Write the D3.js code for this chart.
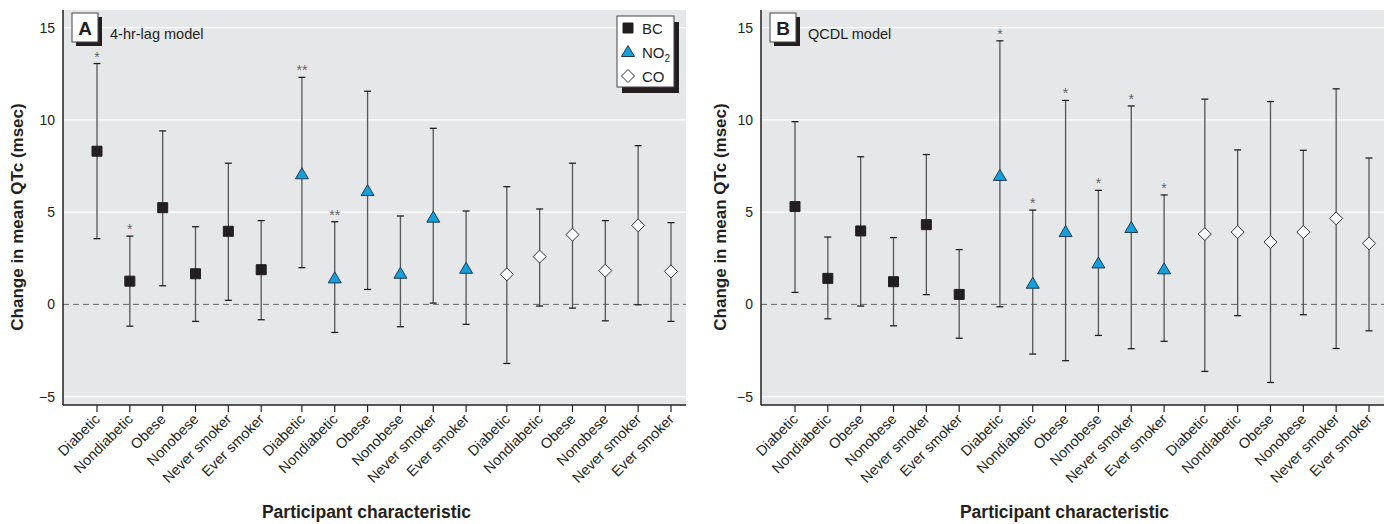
<!DOCTYPE html>
<html>
<head>
<meta charset="utf-8">
<script src="https://cdn.jsdelivr.net/npm/d3@7"></script>
<style>
  body { margin: 0; background: #fff; }
  text { font-family: "Liberation Sans", Arial, sans-serif; }
</style>
</head>
<body>
<div id="chart"></div>
<script>
// ---- data ----
let categories = ["Diabetic", "Nondiabetic", "Obese", "Nonobese", "Never smoker", "Ever smoker"];
let pollutants = ["BC", "NO2", "CO"];
let yTicks = [-5, 0, 5, 10, 15];

// panel A, 4-hr-lag model (BC x6, NO2 x6, CO x6)
let aEst  = [8.3, 1.26, 5.24, 1.66, 3.96, 1.88,   7.05, 1.41, 6.14, 1.66, 4.7, 1.93,   1.63, 2.59, 3.78, 1.83, 4.28, 1.79];
let aLow  = [3.56, -1.18, 1.01, -0.92, 0.22, -0.83,   1.99, -1.52, 0.81, -1.21, 0.07, -1.08,   -3.2, -0.09, -0.2, -0.89, -0.02, -0.92];
let aHigh = [13.05, 3.7, 9.4, 4.21, 7.65, 4.54,   12.3, 4.48, 11.55, 4.79, 9.54, 5.06,   6.38, 5.17, 7.65, 4.54, 8.6, 4.43];
let aStars = ["*", "*", "", "", "", "",   "**", "**", "", "", "", "",   "", "", "", "", "", ""];

// panel B, QCDL model
let bEst  = [5.3, 1.41, 3.98, 1.23, 4.32, 0.54,   6.96, 1.12, 3.92, 2.22, 4.14, 1.9,   3.81, 3.92, 3.38, 3.92, 4.66, 3.31];
let bLow  = [0.65, -0.78, -0.09, -1.16, 0.53, -1.83,   -0.13, -2.69, -3.05, -1.68, -2.4, -2.0,   -3.63, -0.61, -4.23, -0.56, -2.39, -1.43];
let bHigh = [9.9, 3.65, 8.0, 3.62, 8.12, 2.97,   14.28, 5.11, 11.05, 6.18, 10.75, 5.93,   11.12, 8.37, 10.99, 8.35, 11.68, 7.93];
let bStars = ["", "", "", "", "", "",   "*", "*", "*", "*", "*", "*",   "", "", "", "", "", ""];

// ---- layout ----
let width = 1386, height = 524;
let plotTop = 10, plotBottom = 405;
let groupGap = 0.24;

let svg = d3.select("#chart").append("svg")
  .attr("width", width).attr("height", height);

let y = d3.scaleLinear().domain([-5.45, 15.95]).range([plotBottom, plotTop]);

// rows: one per marker, built from the arrays
function makeRows(est, low, high, stars) {
  return est.map(function(d, i) {
    return { pos: i + groupGap * Math.floor(i / 6), cat: categories[i % 6],
             pol: pollutants[Math.floor(i / 6)], est: d, low: low[i], high: high[i], star: stars[i] };
  });
}

let panels = [
  { id: "A", model: "4-hr-lag model", left: 63, right: 686, titleX: 23, rows: makeRows(aEst, aLow, aHigh, aStars), legend: true },
  { id: "B", model: "QCDL model", left: 761, right: 1384, titleX: 726, rows: makeRows(bEst, bLow, bHigh, bStars), legend: false }
];

let blue = "#14a0dc";

function symbolPath(pol, cx, cy) {
  if (pol == "BC") return `M${cx-5},${cy-5}h10v10h-10z`;
  if (pol == "NO2") return `M${cx},${cy-6.5}L${cx+6.5},${cy+4.5}L${cx-6.5},${cy+4.5}z`;
  return `M${cx},${cy-6.5}L${cx+6.5},${cy}L${cx},${cy+6.5}L${cx-6.5},${cy}z`;
}
function styleSymbol(sel) {
  sel.attr("fill", function(d) { return d.pol == "BC" ? "#231f20" : d.pol == "NO2" ? blue : "#fff"; })
     .attr("stroke", function(d) { return d.pol == "BC" ? "#231f20" : d.pol == "NO2" ? "#1d3c55" : "#333"; })
     .attr("stroke-width", 1);
}

panels.forEach(function(p) {
  let x = d3.scaleLinear().domain([0, 17 + 2 * groupGap]).range([p.left + 34, p.right - 15]);
  let g = svg.append("g");

  // gray plot area
  g.append("rect").attr("x", p.left).attr("y", plotTop)
    .attr("width", p.right - p.left).attr("height", plotBottom - plotTop).attr("fill", "#e6e7e8");

  // gridlines
  g.selectAll(".grid").data(yTicks.filter(function(t) { return t != 0; })).enter().append("line")
    .attr("x1", p.left).attr("x2", p.right)
    .attr("y1", function(d) { return y(d); }).attr("y2", function(d) { return y(d); })
    .attr("stroke", "#fff").attr("stroke-width", 1.2);
  g.append("line").attr("x1", p.left).attr("x2", p.right).attr("y1", y(0)).attr("y2", y(0))
    .attr("stroke", "#666").attr("stroke-width", 1).attr("stroke-dasharray", "6,4");

  // y tick labels
  g.selectAll(".ytick").data(yTicks).enter().append("text")
    .attr("x", p.left - 8).attr("y", function(d) { return y(d) + 5; })
    .attr("text-anchor", "end").attr("font-size", 14)
    .style("font-family", "'Liberation Sans Narrow', sans-serif").attr("fill", "#231f20")
    .text(function(d) { return d < 0 ? "\u2212" + Math.abs(d) : d; });

  // axes lines
  g.append("line").attr("x1", p.left).attr("x2", p.left).attr("y1", plotTop).attr("y2", plotBottom)
    .attr("stroke", "#231f20").attr("stroke-width", 1.5);
  g.append("line").attr("x1", p.left).attr("x2", p.right).attr("y1", plotBottom).attr("y2", plotBottom)
    .attr("stroke", "#231f20").attr("stroke-width", 1.5);

  // x ticks and labels
  g.selectAll(".xtick").data(p.rows).enter().append("line")
    .attr("x1", function(d) { return x(d.pos); }).attr("x2", function(d) { return x(d.pos); })
    .attr("y1", plotBottom).attr("y2", plotBottom + 7).attr("stroke", "#231f20").attr("stroke-width", 1.2);
  g.selectAll(".xlab").data(p.rows).enter().append("text")
    .attr("transform", function(d) { return `translate(${x(d.pos) + 4},${plotBottom + 15}) rotate(-45)`; })
    .attr("text-anchor", "end").attr("font-size", 14.5).attr("fill", "#231f20")
    .text(function(d) { return d.cat; });

  // error bars
  g.selectAll(".bar").data(p.rows).enter().append("line")
    .attr("x1", function(d) { return x(d.pos); }).attr("x2", function(d) { return x(d.pos); })
    .attr("y1", function(d) { return y(d.low); }).attr("y2", function(d) { return y(d.high); })
    .attr("stroke", "#555").attr("stroke-width", 1.3);
  ["low", "high"].forEach(function(k) {
    g.selectAll(".cap" + k).data(p.rows).enter().append("line")
      .attr("x1", function(d) { return x(d.pos) - 3.5; }).attr("x2", function(d) { return x(d.pos) + 3.5; })
      .attr("y1", function(d) { return y(d[k]); }).attr("y2", function(d) { return y(d[k]); })
      .attr("stroke", "#231f20").attr("stroke-width", 1.3);
  });

  // stars
  g.selectAll(".star").data(p.rows.filter(function(d) { return d.star; })).enter().append("text")
    .attr("x", function(d) { return x(d.pos); }).attr("y", function(d) { return y(d.high) - 2; })
    .attr("text-anchor", "middle").attr("font-size", 14).attr("fill", "#666")
    .text(function(d) { return d.star; });

  // markers
  g.selectAll(".pt").data(p.rows).enter().append("path")
    .attr("d", function(d) { return symbolPath(d.pol, x(d.pos), y(d.est)); })
    .call(styleSymbol);

  // panel letter box
  let bx = p.left + 9, by = 13;
  g.append("rect").attr("x", bx + 4).attr("y", by + 4).attr("width", 26).attr("height", 29).attr("fill", "#231f20");
  g.append("rect").attr("x", bx).attr("y", by).attr("width", 26).attr("height", 29)
    .attr("fill", "#fff").attr("stroke", "#444").attr("stroke-width", 1);
  g.append("text").attr("x", bx + 13).attr("y", by + 22).attr("text-anchor", "middle")
    .attr("font-size", 19).attr("font-weight", "bold").attr("fill", "#231f20")
    .style("font-family", "'Liberation Sans Narrow', sans-serif").text(p.id);
  g.append("text").attr("x", p.left + 47).attr("y", 39).attr("font-size", 14.5).attr("fill", "#231f20")
    .text(p.model);

  // axis titles
  g.append("text").attr("transform", `translate(${p.titleX},217) rotate(-90)`)
    .attr("text-anchor", "middle").attr("font-size", 17).attr("font-weight", "bold").attr("fill", "#231f20")
    .text("Change in mean QTc (msec)");
  g.append("text").attr("x", (p.left + p.right) / 2 - 8).attr("y", 518)
    .attr("text-anchor", "middle").attr("font-size", 17.5).attr("font-weight", "bold").attr("fill", "#231f20")
    .text("Participant characteristic");

  // legend
  if (p.legend) {
    let lx = 617, ly = 16, lw = 57, lh = 71;
    g.append("rect").attr("x", lx + 5).attr("y", ly + 6).attr("width", lw).attr("height", lh).attr("fill", "#231f20");
    g.append("rect").attr("x", lx).attr("y", ly).attr("width", lw).attr("height", lh)
      .attr("fill", "#fff").attr("stroke", "#444").attr("stroke-width", 1);
    let items = pollutants.map(function(d, i) { return { pol: d, ly: ly + 12 + i * 24 }; });
    g.selectAll(".lsym").data(items).enter().append("path")
      .attr("d", function(d) { return symbolPath(d.pol, lx + 11, d.ly); })
      .call(styleSymbol);
    let lt = g.selectAll(".ltxt").data(items).enter().append("text")
      .attr("x", lx + 25).attr("y", function(d) { return d.ly + 6; })
      .attr("font-size", 15).attr("fill", "#231f20")
      .style("font-family", "'Liberation Sans Narrow', sans-serif");
    lt.each(function(d) {
      let t = d3.select(this);
      if (d.pol == "NO2") {
        t.append("tspan").text("NO");
        t.append("tspan").attr("font-size", 10).attr("dy", 4).text("2");
      } else t.text(d.pol);
    });
  }
});
</script>
</body>
</html>
